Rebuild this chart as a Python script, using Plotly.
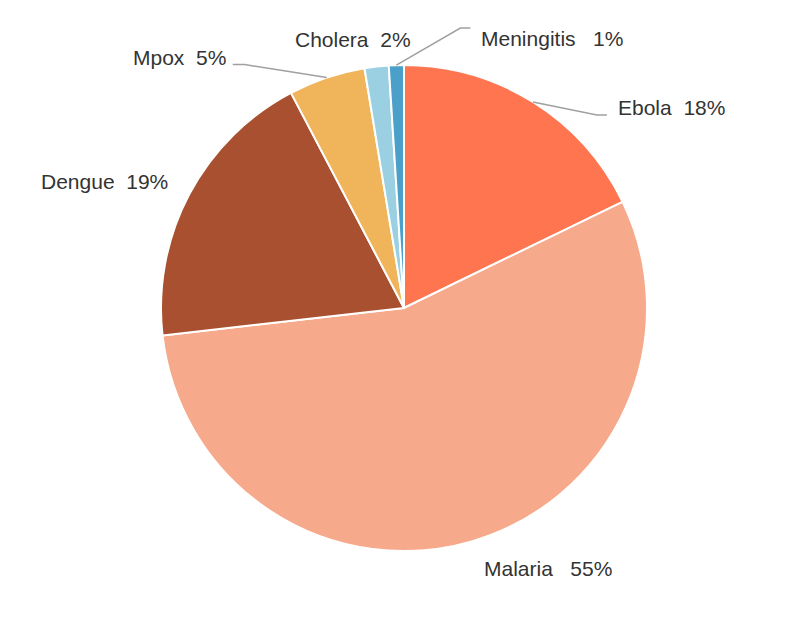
import math
import plotly.graph_objects as go

# ---- data ----
diseases = ["Ebola", "Malaria", "Dengue", "Mpox", "Cholera", "Meningitis"]
shares = [17.8, 55.4, 19.1, 5.1, 1.6, 1.0]
colors = ["#FF7550", "#F7A98B", "#A8502F", "#F0B45A", "#9BCFE2", "#4AA0C8"]
gaps = ["\u00a0\u00a0", "\u00a0\u00a0\u00a0", "\u00a0\u00a0", "\u00a0\u00a0", "\u00a0\u00a0", "\u00a0\u00a0\u00a0"]

# ---- layout geometry (pixels) ----
W, H = 808, 618
CX, CY, R = 404, 308, 243

# label placement relative to slice edge point: (dx, dy, xanchor, leader points)
label_style = {
    "Ebola": (83, 5, "left", [(64, 13), (74, 13)]),
    "Malaria": (10, 27, "left", None),
    "Dengue": (-19, -13, "right", None),
    "Mpox": (-99, -20, "right", [(-82, -13), (-94, -13)]),
    "Cholera": (-24, -27, "center", None),
    "Meningitis": (83, -27, "left", [(64, -37), (74, -37)]),
}


def px2paper(x, y):
    return x / W, 1 - y / H


fig = go.Figure(
    go.Pie(
        labels=diseases,
        values=shares,
        sort=False,
        direction="clockwise",
        rotation=0,
        marker=dict(colors=colors, line=dict(color="white", width=2)),
        textinfo="none",
        hovertemplate="%{label}: %{percent}<extra></extra>",
        domain=dict(x=[(CX - R) / W, (CX + R) / W], y=[1 - (CY + R) / H, 1 - (CY - R) / H]),
        showlegend=False,
    )
)

total = sum(shares)
cum = 0.0
annotations = []
shapes = []
for name, v, gap in zip(diseases, shares, gaps):
    mid = (cum + v / 2) / total * 2 * math.pi
    cum += v
    ex = CX + R * math.sin(mid)
    ey = CY - R * math.cos(mid)
    dx, dy, anchor, leader = label_style[name]
    lx, ly = px2paper(ex + dx, ey + dy)
    pct = round(v / total * 100)
    annotations.append(
        dict(
            x=lx, y=ly, xref="paper", yref="paper",
            text=f"{name}{gap}{pct}%",
            showarrow=False, xanchor=anchor, yanchor="middle",
            font=dict(family="Liberation Sans, Arial, sans-serif", size=21, color="#333333"),
        )
    )
    if leader:
        pts = [(ex, ey)] + [(ex + a, ey + b) for a, b in leader]
        ppts = [px2paper(x, y) for x, y in pts]
        path = "M " + " L ".join(f"{x:.5f},{y:.5f}" for x, y in ppts)
        shapes.append(
            dict(type="path", xref="paper", yref="paper", path=path,
                 line=dict(color="#A0A0A0", width=1.5))
        )

fig.update_layout(
    width=W, height=H,
    margin=dict(l=0, r=0, t=0, b=0),
    paper_bgcolor="white", plot_bgcolor="white",
    annotations=annotations, shapes=shapes,
)

fig.write_html("out.html")
